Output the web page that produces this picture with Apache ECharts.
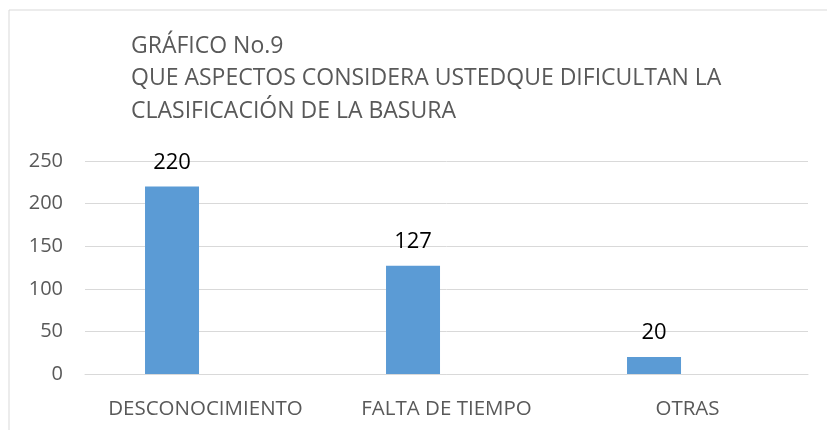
<!DOCTYPE html>
<html>
<head>
<meta charset="utf-8">
<script src="https://cdn.jsdelivr.net/npm/echarts@6/dist/echarts.min.js"></script>
<style>
  html, body { margin: 0; padding: 0; background: #fff; }
  #chart { width: 827px; height: 430px; }
</style>
</head>
<body>
<div id="chart"></div>
<script>
const titleLines = [
  "GRÁFICO No.9",
  "QUE ASPECTOS CONSIDERA USTEDQUE DIFICULTAN LA",
  "CLASIFICACIÓN DE LA BASURA"
];
const categories = ["DESCONOCIMIENTO", "FALTA DE TIEMPO", "OTRAS"];
const values = [220, 127, 20];
const emptySeries = [null, null, null];
const yTicks = [0, 50, 100, 150, 200, 250];

const chart = echarts.init(document.getElementById("chart"));
const fontFamily = "'Open Sans', sans-serif";

const option = {
  animation: false,
  textStyle: { fontFamily: fontFamily },
  title: {
    text: titleLines.join("\n"),
    left: 126,
    top: 25,
    textStyle: {
      color: "#595959",
      fontSize: 23,
      fontWeight: "normal",
      lineHeight: 32.5,
      fontFamily: fontFamily
    }
  },
  graphic: [
    {
      type: "polyline",
      shape: { points: [[9, 430], [9, 10], [827, 10]] },
      style: { stroke: "#d9d9d9", lineWidth: 1, fill: null }
    }
  ],
  grid: { left: 85, right: 19, top: 161, bottom: 56 },
  xAxis: {
    type: "category",
    data: categories,
    axisLine: { lineStyle: { color: "#d9d9d9" } },
    axisTick: { show: false },
    axisLabel: { interval: 0, color: "#595959", fontSize: 20.5, margin: 25, fontFamily: fontFamily }
  },
  yAxis: {
    type: "value",
    min: yTicks[0],
    max: yTicks[yTicks.length - 1],
    interval: 50,
    axisLine: { show: false },
    axisTick: { show: false },
    splitLine: { lineStyle: { color: "#d9d9d9" } },
    axisLabel: { color: "#595959", fontSize: 20, margin: 22, fontFamily: fontFamily }
  },
  series: [
    {
      type: "bar",
      data: values,
      barWidth: 54,
      barGap: "24%",
      itemStyle: { color: "#5b9bd5" },
      label: {
        show: true,
        position: "top",
        distance: 13,
        color: "#000",
        fontSize: 22,
        fontFamily: fontFamily
      }
    },
    {
      type: "bar",
      data: emptySeries,
      barWidth: 54
    }
  ]
};

chart.setOption(option);
</script>
</body>
</html>
